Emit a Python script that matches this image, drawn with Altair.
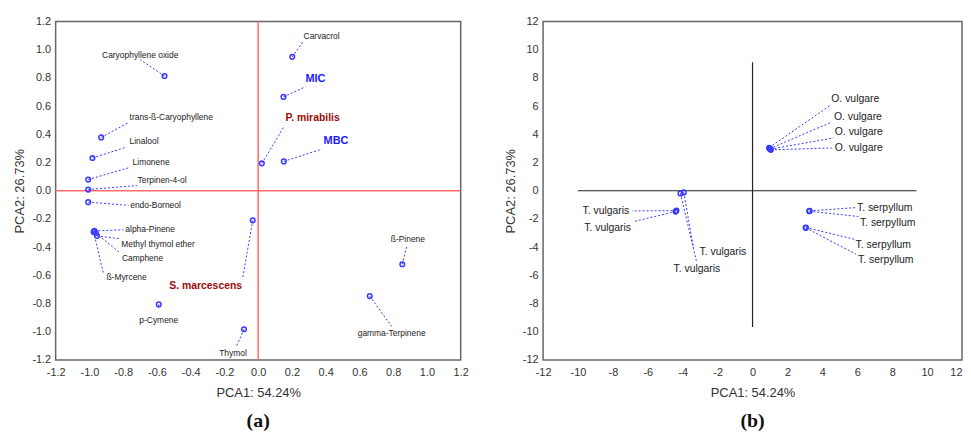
import altair as alt
import pandas as pd

# ---------------- Panel (a): loadings / variables ----------------
a_names = ["Caryophyllene oxide", "trans-ß-Caryophyllene", "Linalool", "Limonene",
           "Terpinen-4-ol", "endo-Borneol", "alpha-Pinene", "Methyl thymol ether",
           "Camphene", "ß-Myrcene", "p-Cymene", "Thymol", "S. marcescens",
           "Carvacrol", "MIC", "P. mirabilis", "MBC", "ß-Pinene", "gamma-Terpinene"]
a_x = [-0.555, -0.930, -0.982, -1.007, -1.007, -1.007, -0.970, -0.955, -0.962, -0.975,
       -0.589, -0.084, -0.032, 0.202, 0.150, 0.022, 0.152, 0.854, 0.661]
a_y = [0.813, 0.378, 0.232, 0.079, 0.008, -0.081, -0.285, -0.320, -0.300, -0.292,
       -0.806, -0.982, -0.210, 0.949, 0.665, 0.194, 0.208, -0.521, -0.747]
# end of the dashed leader line
a_lx = [-0.699, -0.769, -0.787, -0.758, -0.718, -0.768, -0.798, -0.822, -0.818, -0.916,
        -0.589, -0.129, -0.093, 0.268, 0.280, 0.156, 0.378, 0.882, 0.791]
a_ly = [0.930, 0.483, 0.307, 0.166, 0.037, -0.104, -0.277, -0.340, -0.441, -0.590,
        -0.836, -1.105, -0.627, 1.060, 0.737, 0.460, 0.295, -0.387, -0.962]
# label anchor
a_tx = [-0.699, -0.762, -0.762, -0.744, -0.715, -0.758, -0.787, -0.811, -0.807, -0.899,
        -0.589, -0.149, -0.311, 0.376, 0.339, 0.323, 0.461, 0.887, 0.791]
a_ty = [0.961, 0.519, 0.352, 0.201, 0.076, -0.104, -0.272, -0.375, -0.474, -0.615,
        -0.916, -1.152, -0.674, 1.100, 0.789, 0.514, 0.349, -0.342, -1.006]
a_align = ["center", "left", "left", "left", "left", "left", "left", "left", "left", "left",
           "center", "center", "center", "center", "center", "center", "center", "center", "center"]
a_kind = ["compound"] * 12 + ["organism", "compound", "param", "organism", "param",
                              "compound", "compound"]
a_ticks = [-1.2, -1.0, -0.8, -0.6, -0.4, -0.2, 0.0, 0.2, 0.4, 0.6, 0.8, 1.0, 1.2]

# ---------------- Panel (b): scores / samples ----------------
b_names = ["T. vulgaris", "T. vulgaris", "T. vulgaris", "T. vulgaris",
           "O. vulgare", "O. vulgare", "O. vulgare", "O. vulgare",
           "T. serpyllum", "T. serpyllum", "T. serpyllum", "T. serpyllum"]
b_x = [-4.36, -4.41, -3.94, -4.13, 0.95, 0.98, 1.02, 1.05, 3.27, 3.25, 3.06, 3.04]
b_y = [-1.41, -1.48, -0.12, -0.19, 3.05, 2.98, 2.95, 2.90, -1.43, -1.45, -2.61, -2.63]
b_lx = [-6.90, -6.83, -3.38, -3.19, 4.45, 4.54, 4.64, 4.54, 5.87, 6.06, 5.83, 5.93]
b_ly = [-1.43, -2.19, -4.07, -5.13, 6.05, 4.87, 3.74, 3.03, -1.20, -1.83, -3.44, -4.50]
b_tx = [-7.06, -6.96, -3.04, -3.19, 4.51, 4.66, 4.71, 4.71, 5.98, 6.15, 5.90, 6.04]
b_ty = [-1.43, -2.61, -4.38, -5.55, 6.51, 5.24, 4.14, 3.03, -1.20, -2.26, -3.83, -4.89]
b_align = ["right", "right", "left", "center", "left", "left", "left", "left",
           "left", "left", "left", "left"]
b_ticks = [-12, -10, -8, -6, -4, -2, 0, 2, 4, 6, 8, 10, 12]
# internal cross-hair lines of panel (b)
b_hline = [-10.0, 9.39]
b_vline = [-9.67, 9.1]

BLUE = "#3a3aff"
DARKRED = "#9b0a0a"
FONT = "Liberation Sans"

df_a = pd.DataFrame({"name": a_names, "x": a_x, "y": a_y, "lx": a_lx, "ly": a_ly,
                     "tx": a_tx, "ty": a_ty, "align": a_align, "kind": a_kind})
df_b = pd.DataFrame({"name": b_names, "x": b_x, "y": b_y, "lx": b_lx, "ly": b_ly,
                     "tx": b_tx, "ty": b_ty, "align": b_align})

MINUS_A = "replace(format(datum.value, '.1f'), '\u2212', '-')"
MINUS_B = "replace(format(datum.value, 'd'), '\u2212', '-')"


def axis(title, values, expr, lp, tp, **kw):
    return alt.Axis(title=title, values=values, labelExpr=expr, grid=False, domain=False,
                    ticks=False, labelPadding=lp, titlePadding=tp, labelFlush=False, **kw)


def enc_x(field, domain, values, expr, **kw):
    return alt.X(field, type="quantitative",
                 scale=alt.Scale(domain=domain, nice=False, zero=False),
                 axis=axis("PCA1: 54.24%", values, expr, 7, 9, **kw))


def enc_y(field, domain, values, expr):
    return alt.Y(field, type="quantitative",
                 scale=alt.Scale(domain=domain, nice=False, zero=False),
                 axis=axis("PCA2: 26.73%", values, expr, 5, 5))


# ---------- panel (a) ----------
XA = lambda f: enc_x(f, [-1.2, 1.2], a_ticks, MINUS_A)
YA = lambda f: enc_y(f, [-1.2, 1.2], a_ticks, MINUS_A)

zero_df = pd.DataFrame({"v": [0.0]})
a_vrule = alt.Chart(zero_df).mark_rule(color="#ff6a6a", strokeWidth=1.5).encode(x=XA("v"))
a_hrule = alt.Chart(zero_df).mark_rule(color="#ff6a6a", strokeWidth=1.5).encode(y=YA("v"))

base_a = alt.Chart(df_a)
a_lines = base_a.mark_rule(color=BLUE, strokeDash=[2, 2], strokeWidth=1).encode(
    x=XA("x"), y=YA("y"), x2="lx:Q", y2="ly:Q")
a_pts = base_a.mark_point(shape="circle", filled=False, color=BLUE, size=22,
                          strokeWidth=1.5, opacity=1).encode(x=XA("x"), y=YA("y"))


def a_text(kind, align, **kw):
    return base_a.transform_filter(
        (alt.datum.kind == kind) & (alt.datum.align == align)
    ).mark_text(align=align, baseline="middle", font=FONT, **kw).encode(
        x=XA("tx"), y=YA("ty"), text="name:N")


a_t1 = a_text("compound", "left", fontSize=8.5, color="#222")
a_t2 = a_text("compound", "center", fontSize=8.5, color="#222")
a_t3 = a_text("organism", "center", fontSize=10.5, fontWeight="bold", color=DARKRED)
a_t4 = a_text("param", "center", fontSize=11, fontWeight="bold", color="#1a1aff")

title_a = alt.TitleParams("(a)", orient="bottom", anchor="middle", font="Liberation Serif",
                          fontSize=20, fontWeight="bold", color="#111", offset=12)
panel_a = alt.layer(a_vrule, a_hrule, a_lines, a_pts, a_t1, a_t2, a_t3, a_t4).properties(
    width=408, height=341, title=title_a)

# ---------- panel (b) ----------
LAST_RIGHT = {"condition": {"test": "datum.value == 12", "value": "right"}, "value": "center"}
XB = lambda f: enc_x(f, [-12, 12], b_ticks, MINUS_B, labelAlign=LAST_RIGHT)
YB = lambda f: enc_y(f, [-12, 12], b_ticks, MINUS_B)

hl_df = pd.DataFrame({"x1": [b_hline[0]], "x2": [b_hline[1]], "y": [0.0]})
vl_df = pd.DataFrame({"y1": [b_vline[0]], "y2": [b_vline[1]], "x": [0.0]})
b_hrule = alt.Chart(hl_df).mark_rule(color="#222", strokeWidth=1.2).encode(
    x=XB("x1"), x2="x2:Q", y=YB("y"))
b_vrule = alt.Chart(vl_df).mark_rule(color="#222", strokeWidth=1.2).encode(
    y=YB("y1"), y2="y2:Q", x=XB("x"))

base_b = alt.Chart(df_b)
b_lines = base_b.mark_rule(color=BLUE, strokeDash=[2, 2], strokeWidth=1).encode(
    x=XB("x"), y=YB("y"), x2="lx:Q", y2="ly:Q")
b_pts = base_b.mark_point(shape="circle", filled=False, color=BLUE, size=22,
                          strokeWidth=1.5, opacity=1).encode(x=XB("x"), y=YB("y"))


def b_text(align):
    return base_b.transform_filter(alt.datum.align == align).mark_text(
        align=align, baseline="middle", font=FONT, fontSize=10.5, color="#222").encode(
        x=XB("tx"), y=YB("ty"), text="name:N")


title_b = alt.TitleParams("(b)", orient="bottom", anchor="middle", font="Liberation Serif",
                          fontSize=20, fontWeight="bold", color="#111", offset=12)
panel_b = alt.layer(b_hrule, b_vrule, b_lines, b_pts, b_text("left"), b_text("right"),
                    b_text("center")).properties(width=422, height=341, title=title_b)

chart = alt.hconcat(panel_a, panel_b, spacing=83, bounds="flush").properties(
    padding={"left": 5, "top": 5, "right": 0, "bottom": 0}
).configure_view(stroke="#666", strokeWidth=1.5).configure_axis(
    labelFont=FONT, labelFontSize=11, labelColor="#333",
    titleFont=FONT, titleFontSize=13, titleFontWeight="normal", titleColor="#333")

chart.save("out.html", embed_options={"renderer": "svg", "actions": False})
